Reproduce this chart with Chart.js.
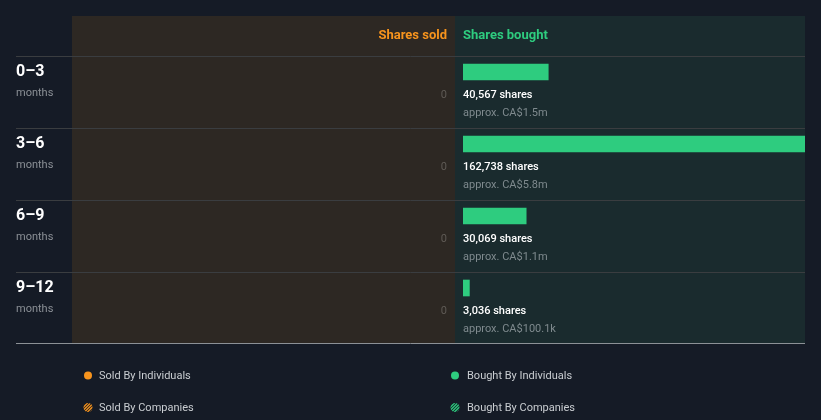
<!DOCTYPE html>
<html><head><meta charset="utf-8">
<script src="https://cdn.jsdelivr.net/npm/chart.js@4/dist/chart.umd.min.js"></script>
<style>html,body{margin:0;padding:0;background:#151b26;}#wrap{width:821px;height:420px;position:relative;}</style>
</head><body><div id="wrap"><canvas id="c" width="821" height="420"></canvas></div>
<script>
const periods = ['0–3', '3–6', '6–9', '9–12'];
const periodUnit = 'months';
const sharesBought = [40567, 162738, 30069, 3036];
const valueBought = ['CA$1.5m', 'CA$5.8m', 'CA$1.1m', 'CA$100.1k'];
const sharesSold = [0, 0, 0, 0];
const legendItems = ['Sold By Individuals', 'Bought By Individuals', 'Sold By Companies', 'Bought By Companies'];

const FONT = 'Roboto, "Noto Sans", sans-serif';
const ORANGE = '#f7941d', GREEN = '#2ecc7f';

function hatchIcon(ctx, x, y, color) {
  ctx.save();
  ctx.beginPath(); ctx.arc(x, y, 4.5, 0, Math.PI * 2); ctx.clip();
  ctx.strokeStyle = color; ctx.lineWidth = 1.3;
  for (let k = -8; k <= 8; k += 3) {
    ctx.beginPath(); ctx.moveTo(x + k - 6, y + 6); ctx.lineTo(x + k + 6, y - 6); ctx.stroke();
  }
  ctx.restore();
}

const deco = {
  id: 'deco',
  beforeDatasetsDraw(chart) {
    const ctx = chart.ctx, a = chart.chartArea;
    ctx.save();
    ctx.fillStyle = '#2d2823'; ctx.fillRect(72, 16, 383, a.bottom - 1 - 16);
    ctx.fillStyle = '#1a2b2e'; ctx.fillRect(455, 16, a.right - 455, a.bottom - 1 - 16);
    ctx.font = 'bold 13px ' + FONT; ctx.textBaseline = 'middle';
    ctx.fillStyle = ORANGE; ctx.textAlign = 'right'; ctx.fillText('Shares sold', 447, 36);
    ctx.fillStyle = GREEN; ctx.textAlign = 'left'; ctx.fillText('Shares bought', 463, 36);
    const ys = chart.scales.y;
    ctx.strokeStyle = '#3a3d40'; ctx.lineWidth = 1;
    for (let i = 0; i < periods.length; i++) {
      const top = Math.round(ys.getPixelForValue(i) - 36) + 0.5;
      ctx.beginPath(); ctx.moveTo(16, top); ctx.lineTo(a.right, top); ctx.stroke();
    }
    ctx.strokeStyle = '#8c9196';
    ctx.beginPath(); ctx.moveTo(16, a.bottom - 0.5); ctx.lineTo(a.right, a.bottom - 0.5); ctx.stroke();
    ctx.restore();
    ctx.save();
    ctx.translate(0, -20);
  },
  afterDatasetsDraw(chart) {
    const ctx = chart.ctx;
    ctx.restore();
    ctx.save();
    const ys = chart.scales.y;
    ctx.textBaseline = 'middle';
    for (let i = 0; i < periods.length; i++) {
      const cy = ys.getPixelForValue(i);
      ctx.textAlign = 'left';
      ctx.fillStyle = '#ffffff'; ctx.font = 'bold 16px ' + FONT;
      ctx.fillText(periods[i], 16, cy - 20);
      ctx.fillStyle = '#8b9096'; ctx.font = '11px ' + FONT;
      ctx.fillText(periodUnit, 16, cy + 1);
      ctx.fillStyle = '#ffffff'; ctx.font = '500 11px ' + FONT;
      ctx.fillText(sharesBought[i].toLocaleString('en-US') + ' shares', 463, cy + 3);
      ctx.fillStyle = '#7f8a8e'; ctx.font = '11px ' + FONT;
      ctx.fillText('approx. ' + valueBought[i], 463, cy + 21);
      ctx.textAlign = 'right'; ctx.fillStyle = '#5f5b56';
      ctx.fillText(String(sharesSold[i]), 447, cy + 3);
    }
    // legend
    ctx.font = '11px ' + FONT; ctx.textAlign = 'left';
    const lx = [88, 455], ly = [376, 408];
    ctx.fillStyle = ORANGE; ctx.beginPath(); ctx.arc(lx[0], ly[0] - 0.5, 4, 0, Math.PI * 2); ctx.fill();
    ctx.fillStyle = GREEN; ctx.beginPath(); ctx.arc(lx[1], ly[0] - 0.5, 4, 0, Math.PI * 2); ctx.fill();
    hatchIcon(ctx, lx[0], ly[1] - 0.5, ORANGE);
    hatchIcon(ctx, lx[1], ly[1] - 0.5, GREEN);
    ctx.fillStyle = '#c9cdd1';
    ctx.fillText(legendItems[0], 99, ly[0]);
    ctx.fillText(legendItems[1], 467, ly[0]);
    ctx.fillText(legendItems[2], 99, ly[1]);
    ctx.fillText(legendItems[3], 467, ly[1]);
    ctx.restore();
  }
};

new Chart(document.getElementById('c'), {
  type: 'bar',
  data: {
    labels: periods,
    datasets: [{
      data: sharesBought,
      backgroundColor: GREEN,
      borderWidth: 0,
      barThickness: 16
    }]
  },
  options: {
    indexAxis: 'y',
    responsive: false,
    animation: false,
    layout: { padding: { left: 463, right: 16, top: 56, bottom: 76 } },
    scales: {
      x: { display: false, min: 0, max: Math.max(...sharesBought) },
      y: { display: false }
    },
    plugins: { legend: { display: false }, tooltip: { enabled: false } }
  },
  plugins: [deco]
});
</script>
</body></html>
